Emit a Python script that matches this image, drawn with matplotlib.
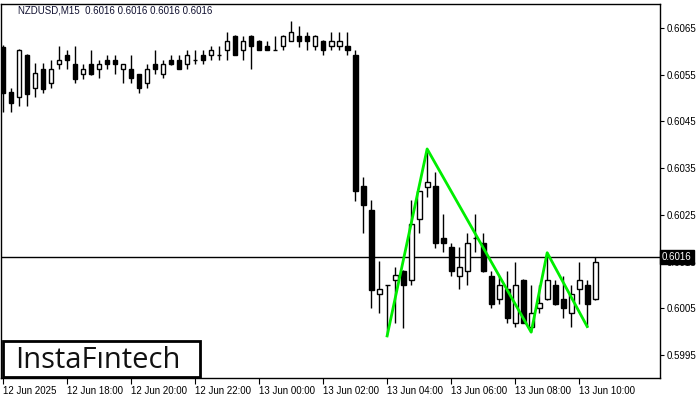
import numpy as np
import matplotlib
matplotlib.use('Agg')
import matplotlib.pyplot as plt
from matplotlib.patches import Rectangle

plt.rcParams['font.family'] = ['Liberation Sans', 'DejaVu Sans']

# NZDUSD M15, 12 Jun 16:00 -> 13 Jun 10:30
opens = [0.60610, 0.60512, 0.60502, 0.60592, 0.60521, 0.60562, 0.60532, 0.60572, 0.60592, 0.60573,
         0.60551, 0.60573, 0.60562, 0.60582, 0.60582, 0.60562, 0.60562, 0.60551, 0.60532, 0.60572,
         0.60551, 0.60582, 0.60582, 0.60572, 0.60582, 0.60592, 0.60592, 0.60592, 0.60603, 0.60633,
         0.60603, 0.60633, 0.60622, 0.60612, 0.60603, 0.60612, 0.60622, 0.60633, 0.60633, 0.60612,
         0.60622, 0.60612, 0.60612, 0.60612, 0.60592, 0.60312, 0.60261, 0.60080, 0.60100, 0.60111,
         0.60130, 0.60111, 0.60241, 0.60310, 0.60312, 0.60200, 0.60181, 0.60120, 0.60129, 0.60200,
         0.60189, 0.60120, 0.60069, 0.60091, 0.60019, 0.60111, 0.60011, 0.60050, 0.60069, 0.60100,
         0.60069, 0.60039, 0.60091, 0.60100, 0.60069]
highs = [0.60614, 0.60522, 0.60605, 0.60594, 0.60575, 0.60575, 0.60582, 0.60612, 0.60603, 0.60612,
         0.60573, 0.60603, 0.60582, 0.60592, 0.60592, 0.60573, 0.60592, 0.60552, 0.60572, 0.60603,
         0.60582, 0.60592, 0.60592, 0.60603, 0.60603, 0.60603, 0.60612, 0.60612, 0.60642, 0.60634,
         0.60633, 0.60634, 0.60623, 0.60622, 0.60633, 0.60634, 0.60664, 0.60653, 0.60642, 0.60634,
         0.60623, 0.60642, 0.60642, 0.60642, 0.60603, 0.60331, 0.60282, 0.60151, 0.60101, 0.60139,
         0.60131, 0.60282, 0.60302, 0.60385, 0.60341, 0.60251, 0.60189, 0.60181, 0.60211, 0.60251,
         0.60211, 0.60129, 0.60120, 0.60129, 0.60150, 0.60112, 0.60100, 0.60100, 0.60171, 0.60111,
         0.60120, 0.60100, 0.60150, 0.60111, 0.60159]
lows = [0.60470, 0.60471, 0.60482, 0.60482, 0.60502, 0.60510, 0.60521, 0.60562, 0.60562, 0.60532,
        0.60541, 0.60550, 0.60542, 0.60562, 0.60551, 0.60532, 0.60532, 0.60510, 0.60521, 0.60551,
        0.60542, 0.60571, 0.60561, 0.60562, 0.60572, 0.60572, 0.60582, 0.60582, 0.60582, 0.60591,
        0.60582, 0.60562, 0.60602, 0.60602, 0.60602, 0.60603, 0.60621, 0.60610, 0.60602, 0.60602,
        0.60591, 0.60602, 0.60602, 0.60591, 0.60280, 0.60211, 0.60050, 0.60040, 0.59993, 0.60019,
        0.60009, 0.60099, 0.60211, 0.60289, 0.60179, 0.60170, 0.60120, 0.60091, 0.60099, 0.60170,
        0.60128, 0.60050, 0.60059, 0.60019, 0.60010, 0.60018, 0.60000, 0.60040, 0.60068, 0.60058,
        0.60029, 0.60010, 0.60059, 0.60011, 0.60068]
closes = [0.60511, 0.60490, 0.60603, 0.60509, 0.60553, 0.60520, 0.60562, 0.60582, 0.60582, 0.60541,
          0.60562, 0.60551, 0.60572, 0.60572, 0.60572, 0.60572, 0.60542, 0.60521, 0.60562, 0.60562,
          0.60572, 0.60572, 0.60562, 0.60592, 0.60582, 0.60582, 0.60603, 0.60592, 0.60622, 0.60592,
          0.60622, 0.60612, 0.60603, 0.60603, 0.60603, 0.60633, 0.60641, 0.60622, 0.60622, 0.60633,
          0.60602, 0.60622, 0.60622, 0.60602, 0.60300, 0.60270, 0.60089, 0.60092, 0.60100, 0.60122,
          0.60099, 0.60231, 0.60301, 0.60320, 0.60189, 0.60189, 0.60129, 0.60139, 0.60189, 0.60200,
          0.60129, 0.60059, 0.60100, 0.60029, 0.60100, 0.60019, 0.60039, 0.60061, 0.60111, 0.60059,
          0.60050, 0.60080, 0.60111, 0.60059, 0.60150]

# triple bottom pattern (bar index, price)
pattern_idx = [48, 53, 66, 68, 73]
pattern_px = [0.59991, 0.60391, 0.59999, 0.60169, 0.60011]

bid = 0.6016
xtick_labels = ['12 Jun 2025', '12 Jun 18:00', '12 Jun 20:00', '12 Jun 22:00', '13 Jun 00:00',
                '13 Jun 02:00', '13 Jun 04:00', '13 Jun 06:00', '13 Jun 08:00', '13 Jun 10:00']
yticks = [0.5995, 0.6005, 0.6015, 0.6025, 0.6035, 0.6045, 0.6055, 0.6065]

fig = plt.figure(figsize=(7, 4), dpi=100)
ax = fig.add_axes([1 / 700, 22 / 400, 659 / 700, 374 / 400])

x = np.arange(len(opens))
o = np.array(opens); h = np.array(highs); l = np.array(lows); c = np.array(closes)
up = c >= o

ax.vlines(x, l, h, color='black', lw=1, zorder=2)
ax.bar(x[up], c[up] - o[up], bottom=o[up], width=0.6, facecolor='white',
       edgecolor='black', lw=1, zorder=3)
ax.bar(x[~up], o[~up] - c[~up], bottom=c[~up], width=0.6, facecolor='black',
       edgecolor='black', lw=1, zorder=3)

ax.plot(pattern_idx, pattern_px, color='#00ee00', lw=2, zorder=4)

ax.axhline(bid, color='black', lw=1, zorder=1)

ax.set_xlim(-0.25, 82.1)
ax.set_ylim(0.59901, 0.60701)

ax.set_xticks(np.arange(0, 80, 8))
ax.set_xticklabels(xtick_labels, ha='left', fontsize=7)
ax.tick_params(axis='x', length=4, pad=2, direction='out')

ax.yaxis.tick_right()
ax.set_yticks(yticks)
ax.set_yticklabels(['%.4f' % v for v in yticks], fontsize=7)
ax.tick_params(axis='y', length=3, pad=2, direction='out')

for s in ax.spines.values():
    s.set_linewidth(1)

ax.text(1.003, bid, '%.4f' % bid, transform=ax.get_yaxis_transform(), fontsize=7,
        color='white', va='center', ha='left', zorder=10,
        bbox=dict(boxstyle='square,pad=0.2', facecolor='black', edgecolor='black'),
        clip_on=False)

ax.text(0.026, 0.982, 'NZDUSD,M15  0.6016 0.6016 0.6016 0.6016', transform=ax.transAxes,
        fontsize=7, color='#101030', va='center', ha='left')

# logo box
fig.patches.append(Rectangle((3 / 700, 23 / 400), 197 / 700, 36 / 400, transform=fig.transFigure,
                             facecolor='white', edgecolor='black', lw=2, zorder=20))
fig.text(98 / 700, 40 / 400, 'InstaFıntech', fontsize=21, weight='medium',
         family=['Open Sans', 'DejaVu Sans'], ha='center', va='center',
         color='#111111', zorder=21)

fig.savefig('out.png', dpi=100)
